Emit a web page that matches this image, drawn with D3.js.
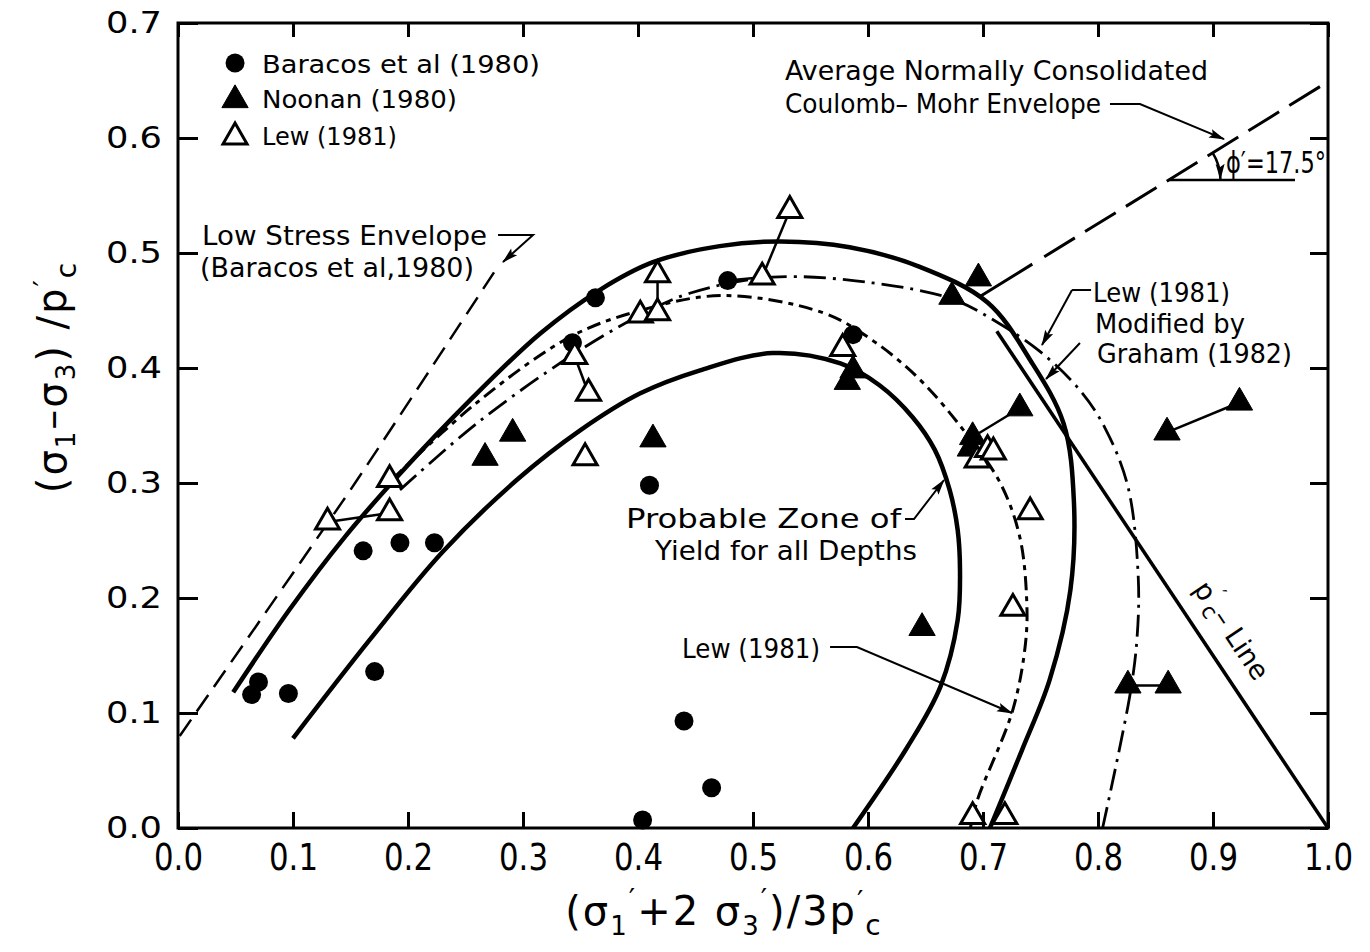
<!DOCTYPE html>
<html>
<head>
<meta charset="utf-8">
<script src="https://cdn.jsdelivr.net/npm/d3@7"></script>
<style>
  html, body { margin: 0; padding: 0; background: #fff; }
  svg { display: block; }
  text { font-family: "DejaVu Sans", "Liberation Sans", sans-serif; fill: #000; }
</style>
</head>
<body>
<svg id="chart" width="1370" height="952"></svg>
<script>
// x = (σ1' + 2σ3') / 3p'c   y = (σ1 - σ3) / p'c
const xTicks = [0, 0.1, 0.2, 0.3, 0.4, 0.5, 0.6, 0.7, 0.8, 0.9, 1.0];
const yTicks = [0, 0.1, 0.2, 0.3, 0.4, 0.5, 0.6, 0.7];

const seriesNames = ["Baracos et al (1980)", "Noonan (1980)", "Lew (1981)"];

// test results
const baracos = [
  [0.064, 0.116], [0.070, 0.127], [0.096, 0.117], [0.171, 0.136],
  [0.161, 0.241], [0.193, 0.248], [0.223, 0.248], [0.343, 0.422],
  [0.363, 0.461], [0.410, 0.298], [0.404, 0.007], [0.440, 0.093],
  [0.464, 0.035], [0.478, 0.476], [0.587, 0.429]
];
const noonan = [
  [0.267, 0.322], [0.291, 0.343], [0.413, 0.338], [0.582, 0.388],
  [0.587, 0.398], [0.673, 0.462], [0.696, 0.478], [0.732, 0.365],
  [0.691, 0.340], [0.689, 0.330], [0.647, 0.174], [0.923, 0.370],
  [0.860, 0.344], [0.826, 0.124], [0.861, 0.124]
];
const lew = [
  [0.130, 0.266], [0.184, 0.274], [0.184, 0.303], [0.345, 0.410],
  [0.357, 0.378], [0.354, 0.322], [0.402, 0.446], [0.417, 0.448],
  [0.417, 0.481], [0.508, 0.479], [0.532, 0.537], [0.578, 0.417],
  [0.695, 0.320], [0.704, 0.329], [0.709, 0.327], [0.741, 0.275],
  [0.726, 0.191], [0.691, 0.010], [0.719, 0.010]
];
// tests joined by a connecting line: [x1, y1, x2, y2]
const pairedTests = [
  [0.130, 0.266, 0.184, 0.274],
  [0.345, 0.410, 0.357, 0.378],
  [0.417, 0.481, 0.417, 0.448],
  [0.478, 0.476, 0.508, 0.479],
  [0.508, 0.479, 0.532, 0.537],
  [0.732, 0.365, 0.691, 0.340],
  [0.923, 0.370, 0.860, 0.344],
  [0.826, 0.124, 0.861, 0.124]
];

// yield curves
const zoneUpper = [
  [0.048, 0.118], [0.097, 0.190], [0.145, 0.253], [0.193, 0.308],
  [0.254, 0.372], [0.315, 0.430], [0.367, 0.468], [0.413, 0.492],
  [0.471, 0.506], [0.524, 0.510], [0.584, 0.505], [0.645, 0.488],
  [0.704, 0.457], [0.741, 0.407], [0.770, 0.352], [0.779, 0.285],
  [0.776, 0.207], [0.758, 0.129], [0.734, 0.068], [0.706, 0.000]
];
const zoneLower = [
  [0.100, 0.078], [0.167, 0.164], [0.230, 0.240], [0.295, 0.303],
  [0.350, 0.346], [0.402, 0.378], [0.454, 0.398], [0.517, 0.413],
  [0.576, 0.404], [0.610, 0.385], [0.639, 0.357], [0.658, 0.329],
  [0.671, 0.294], [0.678, 0.259], [0.680, 0.224], [0.678, 0.181],
  [0.663, 0.123], [0.634, 0.070], [0.587, 0.000]
];
const lewDashed = [
  [0.186, 0.303], [0.260, 0.370], [0.341, 0.427], [0.402, 0.450],
  [0.474, 0.463], [0.561, 0.448], [0.604, 0.424], [0.645, 0.390],
  [0.683, 0.346], [0.715, 0.300], [0.732, 0.253], [0.738, 0.198],
  [0.737, 0.161], [0.726, 0.103], [0.695, 0.024], [0.689, 0.000]
];
const lewDashDot = [
  [0.193, 0.294], [0.260, 0.352], [0.341, 0.410], [0.402, 0.446],
  [0.445, 0.465], [0.517, 0.479], [0.604, 0.474], [0.673, 0.460],
  [0.712, 0.440], [0.750, 0.414], [0.784, 0.381], [0.806, 0.348],
  [0.826, 0.297], [0.835, 0.218], [0.834, 0.166], [0.828, 0.117],
  [0.804, 0.000]
];
const lowStressEnvelope = [[0.0015, 0.080], [0.130, 0.265], [0.156, 0.303], [0.278, 0.488]];
const coulombMohr = [[0.697, 0.462], [1.0, 0.649]];
const pcLine = [[0.712, 0.432], [1.0, 0.0]];

// ---------------------------------------------------------------
const svg = d3.select("#chart");
const x = d3.scaleLinear().domain([0, 1]).range([178, 1328]);
const y = d3.scaleLinear().domain([0, 0.7]).range([828, 23]);

svg.append("rect").attr("width", 1370).attr("height", 952).attr("fill", "#fff");

const defs = svg.append("defs");
defs.append("marker")
  .attr("id", "arrow")
  .attr("viewBox", "-16 -6 18 12")
  .attr("refX", 0).attr("refY", 0)
  .attr("markerWidth", 18).attr("markerHeight", 12)
  .attr("markerUnits", "userSpaceOnUse")
  .attr("orient", "auto")
  .append("path")
  .attr("d", "M1,0 L-15,-4.5 L-12,0 L-15,4.5 Z")
  .attr("fill", "#000");

// ---- frame and axes ----
const fmt = d3.format(".1f");

const gx = svg.append("g")
  .attr("transform", `translate(0,${y(0)})`)
  .call(d3.axisBottom(x).tickValues(xTicks).tickFormat(fmt).tickSize(-16).tickPadding(15).tickSizeOuter(0));
const gy = svg.append("g")
  .attr("transform", `translate(${x(0)},0)`)
  .call(d3.axisLeft(y).tickValues(yTicks).tickFormat(fmt).tickSize(-20).tickPadding(16).tickSizeOuter(0));
const gt = svg.append("g")
  .attr("transform", `translate(0,${y(0.7)})`)
  .call(d3.axisTop(x).tickValues(xTicks).tickFormat("").tickSize(-14).tickSizeOuter(0));
const gr = svg.append("g")
  .attr("transform", `translate(${x(1)},0)`)
  .call(d3.axisRight(y).tickValues(yTicks).tickFormat("").tickSize(-18).tickSizeOuter(0));

[gx, gy, gt, gr].forEach(g => {
  g.select(".domain").remove();
  g.selectAll(".tick line").attr("stroke", "#000").attr("stroke-width", 3);
});
gx.selectAll(".tick text")
  .attr("font-size", 38).attr("textLength", 49).attr("lengthAdjust", "spacingAndGlyphs");
gy.selectAll(".tick text")
  .attr("font-size", 31).attr("textLength", 56).attr("lengthAdjust", "spacingAndGlyphs");

svg.append("rect")
  .attr("x", x(0)).attr("y", y(0.7))
  .attr("width", x(1) - x(0)).attr("height", y(0) - y(0.7))
  .attr("fill", "none").attr("stroke", "#000").attr("stroke-width", 3);

// ---- axis titles ----
function richText(sel, parts) {
  parts.forEach(p => {
    const t = sel.append("tspan").text(p.t);
    if (p.dx != null) t.attr("dx", p.dx);
    if (p.dy != null) t.attr("dy", p.dy);
    if (p.fs != null) t.attr("font-size", p.fs);
  });
  return sel;
}

richText(
  svg.append("text")
    .attr("transform", "translate(66,377) rotate(-90)")
    .attr("text-anchor", "middle")
    .attr("font-size", 40)
    .attr("letter-spacing", 2),
  [
    { t: "(σ" }, { t: "1", dy: 9, fs: 26 }, { t: "–σ", dy: -9 }, { t: "3", dy: 9, fs: 26 },
    { t: ") /p", dy: -9 }, { t: "′", dy: -12, fs: 28 }, { t: "c", dy: 22, fs: 28 }
  ]
);

richText(
  svg.append("text")
    .attr("x", 724).attr("y", 925)
    .attr("text-anchor", "middle")
    .attr("font-size", 40)
    .attr("letter-spacing", 2),
  [
    { t: "(σ" }, { t: "1", dy: 10, fs: 26 }, { t: "′", dy: -26, fs: 28 },
    { t: "+2 σ", dy: 16 }, { t: "3", dy: 10, fs: 26 }, { t: "′", dy: -26, fs: 28 },
    { t: ")/3p", dy: 16 }, { t: "′", dy: -14, fs: 28 }, { t: "c", dy: 24, fs: 28 }
  ]
);

// ---- curves ----
const smooth = d3.line().x(d => x(d[0])).y(d => y(d[1])).curve(d3.curveCatmullRom.alpha(0.5));
const straight = d3.line().x(d => x(d[0])).y(d => y(d[1]));

const curves = svg.append("g").attr("fill", "none").attr("stroke", "#000").attr("stroke-linecap", "butt");
curves.append("path").attr("d", smooth(lowStressEnvelope)).attr("stroke-width", 2.5).attr("stroke-dasharray", "20,10");
curves.append("path").attr("d", smooth(lewDashed)).attr("stroke-width", 3).attr("stroke-dasharray", "14,6,5,6");
curves.append("path").attr("d", smooth(lewDashDot)).attr("stroke-width", 2.8).attr("stroke-dasharray", "22,7,3,7");
curves.append("path").attr("d", smooth(zoneUpper)).attr("stroke-width", 4.5);
curves.append("path").attr("d", smooth(zoneLower)).attr("stroke-width", 4.5);
curves.append("path").attr("d", straight(coulombMohr)).attr("stroke-width", 3).attr("stroke-dasharray", "62,14,36,12,36,12,36,12,36,12,36,12,36,12,36,12");
curves.append("path").attr("d", straight(pcLine)).attr("stroke-width", 3.5);

// connectors between paired tests
svg.append("g").selectAll("line").data(pairedTests).join("line")
  .attr("x1", d => x(d[0])).attr("y1", d => y(d[1]))
  .attr("x2", d => x(d[2])).attr("y2", d => y(d[3]))
  .attr("stroke", "#000").attr("stroke-width", 2.5);

// ---- markers ----
const triFilled = d3.symbol().type(d3.symbolTriangle).size(300);
const triOpen = d3.symbol().type(d3.symbolTriangle).size(250);

function circles(g, data) {
  g.selectAll(null).data(data).join("circle")
    .attr("cx", d => x(d[0])).attr("cy", d => y(d[1])).attr("r", 9.5).attr("fill", "#000");
}
function triangles(g, data, filled) {
  g.selectAll(null).data(data).join("path")
    .attr("d", filled ? triFilled : triOpen)
    .attr("transform", d => `translate(${x(d[0])},${y(d[1])})`)
    .attr("fill", filled ? "#000" : "#fff")
    .attr("stroke", "#000")
    .attr("stroke-width", filled ? 1 : 3);
}
const marks = svg.append("g");
circles(marks, baracos);
triangles(marks, noonan, true);
triangles(marks, lew, false);

// ---- legend ----
const legendMarkX = 0.0496;
const legendTextX = 0.073;
const legendRowsY = [0.6652, 0.6330, 0.6009];
const legendTextY = [0.6565, 0.6261, 0.5939];
const legendWidths = [278, 195, 135];
const lg = svg.append("g");
circles(lg, [[legendMarkX, legendRowsY[0]]]);
triangles(lg, [[legendMarkX, legendRowsY[1]]], true);
triangles(lg, [[legendMarkX, legendRowsY[2]]], false);
lg.selectAll("text").data(seriesNames).join("text")
  .attr("x", x(legendTextX)).attr("y", (d, i) => y(legendTextY[i]))
  .attr("font-size", 25)
  .attr("textLength", (d, i) => legendWidths[i]).attr("lengthAdjust", "spacingAndGlyphs")
  .text(d => d);

// ---- annotations ----
const notes = [
  { t: "Average Normally Consolidated", at: [0.5278, 0.6504], w: 423, fs: 27 },
  { t: "Coulomb– Mohr Envelope", at: [0.5278, 0.6217], w: 316, fs: 27 },
  { t: "Low Stress Envelope", at: [0.0209, 0.5070], w: 285, fs: 27 },
  { t: "(Baracos et al,1980)", at: [0.0191, 0.4791], w: 274, fs: 27 },
  { t: "Probable Zone of", at: [0.3896, 0.2609], w: 275, fs: 27 },
  { t: "Yield for all Depths", at: [0.4148, 0.2330], w: 262, fs: 27 },
  { t: "Lew (1981)", at: [0.4383, 0.1478], w: 138, fs: 27 },
  { t: "Lew (1981)", at: [0.7957, 0.4574], w: 137, fs: 27 },
  { t: "Modified by", at: [0.7974, 0.4304], w: 150, fs: 27 },
  { t: "Graham (1982)", at: [0.7991, 0.4043], w: 195, fs: 27 },
  { t: "ϕ′=17.5°", at: [0.9113, 0.5696], w: 100, fs: 30 }
];
svg.append("g").selectAll("text").data(notes).join("text")
  .attr("x", d => x(d.at[0])).attr("y", d => y(d.at[1]))
  .attr("font-size", d => d.fs)
  .attr("textLength", d => d.w).attr("lengthAdjust", "spacingAndGlyphs")
  .text(d => d.t);

// leader lines with arrowheads
const leaders = [
  [[0.8104, 0.6296], [0.8365, 0.6296], [0.9096, 0.5990]],
  [[0.2783, 0.5157], [0.3087, 0.5157], [0.2826, 0.4922]],
  [[0.6322, 0.2687], [0.6400, 0.2687], [0.6661, 0.3026]],
  [[0.5670, 0.1574], [0.5904, 0.1574], [0.7252, 0.1000]],
  [[0.7774, 0.4678], [0.7513, 0.4200]],
  [[0.7843, 0.4217], [0.7548, 0.3904]]
];
svg.append("g").selectAll("path").data(leaders).join("path")
  .attr("d", straight)
  .attr("fill", "none").attr("stroke", "#000").attr("stroke-width", 2)
  .attr("marker-end", "url(#arrow)");
// short dash in front of the upper-right label
svg.append("path")
  .attr("d", straight([[0.7774, 0.4678], [0.7940, 0.4678]]))
  .attr("stroke", "#000").attr("stroke-width", 2);

// friction angle: horizontal reference and arc from the envelope
const cmSlope = (coulombMohr[1][1] - coulombMohr[0][1]) / (coulombMohr[1][0] - coulombMohr[0][0]);
const refY = 0.5635;
const refX = coulombMohr[0][0] + (refY - coulombMohr[0][1]) / cmSlope;
svg.append("path")
  .attr("d", straight([[refX, refY], [0.9713, refY]]))
  .attr("stroke", "#000").attr("stroke-width", 2.5);
const cx = x(refX), cy = y(refY);
const r = x(refX + 0.045) - cx;
const angPx = Math.atan2(y(coulombMohr[1][1]) - y(coulombMohr[0][1]), x(coulombMohr[1][0]) - x(coulombMohr[0][0]));
const arc = d3.path();
arc.arc(cx, cy, r, angPx, -0.02, false);
svg.append("path").attr("d", arc.toString())
  .attr("fill", "none").attr("stroke", "#000").attr("stroke-width", 2.5)
  .attr("marker-end", "url(#arrow)");

// p'c line label, written along the line
const pcAng = Math.atan2(y(pcLine[1][1]) - y(pcLine[0][1]), x(pcLine[1][0]) - x(pcLine[0][0]));
const lx = 0.895;
const ly = pcLine[0][1] + (lx - pcLine[0][0]) * (pcLine[1][1] - pcLine[0][1]) / (pcLine[1][0] - pcLine[0][0]);
const off = 30;
const tx = x(lx) + off * Math.sin(pcAng), ty = y(ly) - off * Math.cos(pcAng);
richText(
  svg.append("text")
    .attr("transform", `translate(${tx},${ty}) rotate(${pcAng * 180 / Math.PI})`)
    .attr("text-anchor", "middle")
    .attr("dominant-baseline", "central")
    .attr("font-size", 27),
  [
    { t: "p" }, { t: "′", dy: -10, fs: 20 }, { t: "c", dy: 18, fs: 22 },
    { t: "– Line", dy: -8 }
  ]
);
</script>
</body>
</html>
